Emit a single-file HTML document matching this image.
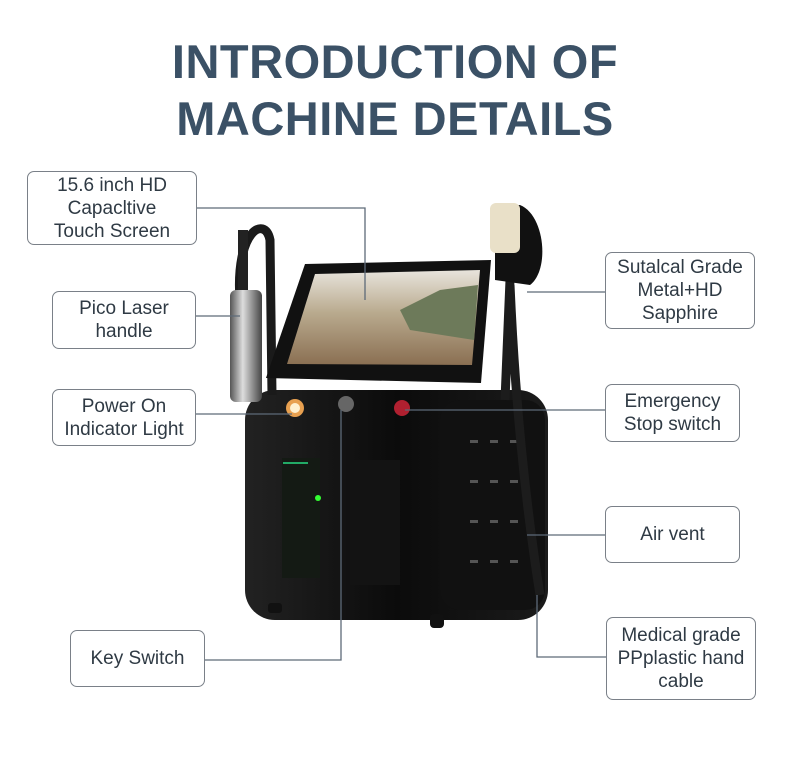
<!DOCTYPE html>
<html><head><meta charset="utf-8"><style>
body{margin:0;background:#fff;}
.wrap{position:relative;width:790px;height:768px;overflow:hidden;font-family:"Liberation Sans",sans-serif;}
.t{position:absolute;left:0;width:790px;text-align:center;font-weight:bold;color:#3b5166;font-size:47px;letter-spacing:0.5px;}
.b{position:absolute;border:1.5px solid #7a8088;border-radius:7px;box-sizing:border-box;display:flex;align-items:center;justify-content:center;text-align:center;color:#2f3a44;font-size:19px;line-height:23px;background:#fff;}
svg{position:absolute;left:0;top:0;}
</style></head><body><div class="wrap">
<div class="t" style="top:34px;line-height:56px">INTRODUCTION OF</div>
<div class="t" style="top:91px;line-height:56px">MACHINE DETAILS</div>
<svg width="790" height="768">
<defs>
<linearGradient id="bd" x1="0" x2="1"><stop offset="0" stop-color="#222"/><stop offset=".5" stop-color="#0b0b0b"/><stop offset="1" stop-color="#1b1b1b"/></linearGradient>
<linearGradient id="sc" x1="0" y1="0" x2="0" y2="1"><stop offset="0" stop-color="#e8e4dc"/><stop offset=".45" stop-color="#b9aa8e"/><stop offset="1" stop-color="#8a6f52"/></linearGradient>
<linearGradient id="hd" x1="0" x2="1"><stop offset="0" stop-color="#555"/><stop offset=".4" stop-color="#ddd"/><stop offset="1" stop-color="#444"/></linearGradient>
</defs>
<rect x="245" y="390" width="303" height="230" rx="30" fill="url(#bd)"/>
<rect x="440" y="400" width="105" height="210" rx="20" fill="#111"/>
<g fill="#555">
<rect x="470" y="440" width="8" height="3"/><rect x="490" y="440" width="8" height="3"/><rect x="510" y="440" width="8" height="3"/>
<rect x="470" y="480" width="8" height="3"/><rect x="490" y="480" width="8" height="3"/><rect x="510" y="480" width="8" height="3"/>
<rect x="470" y="520" width="8" height="3"/><rect x="490" y="520" width="8" height="3"/><rect x="510" y="520" width="8" height="3"/>
<rect x="470" y="560" width="8" height="3"/><rect x="490" y="560" width="8" height="3"/><rect x="510" y="560" width="8" height="3"/>
</g>
<rect x="282" y="458" width="38" height="120" fill="#141a14"/>
<rect x="350" y="460" width="50" height="125" fill="#131313"/>
<circle cx="318" cy="498" r="3" fill="#3f3"/>
<rect x="283" y="462" width="25" height="2" fill="#2a6"/>
<rect x="268" y="603" width="14" height="10" rx="3" fill="#111"/>
<rect x="430" y="614" width="14" height="14" rx="4" fill="#111"/>
<path d="M240 300 C235 230 265 215 270 240 L272 395" stroke="#1a1a1a" stroke-width="9" fill="none"/>
<rect x="230" y="290" width="32" height="112" rx="6" fill="url(#hd)"/>
<rect x="238" y="230" width="10" height="60" fill="#222"/>
<polygon points="305,264 491,260 481,383 266,378" fill="#111"/>
<polygon points="315,274 480,270 472,365 287,364" fill="url(#sc)"/>
<path d="M400 310 L440 290 L478 285 L474 340 L410 330Z" fill="#6d7a5a"/>
<path d="M510 280 L505 400 M510 285 C515 400 525 500 540 595" stroke="#1c1c1c" stroke-width="9" fill="none"/>
<path d="M495 205 L520 205 C545 215 550 270 530 285 L495 280Z" fill="#111"/>
<rect x="490" y="203" width="30" height="50" rx="6" fill="#e9e0c8"/>
<circle cx="295" cy="408" r="9" fill="#e8a050"/><circle cx="295" cy="408" r="5" fill="#fff0d0"/>
<circle cx="346" cy="404" r="8" fill="#666"/>
<circle cx="402" cy="408" r="8" fill="#b02030"/>
<g stroke="#5d6a78" stroke-width="1.3" fill="none">
<path d="M197 208 H365 V300"/>
<path d="M196 316 H240"/>
<path d="M196 414 H292"/>
<path d="M205 660 H341 V410"/>
<path d="M605 292 H527"/>
<path d="M605 410 H405"/>
<path d="M605 535 H527"/>
<path d="M606 657 H537 V595"/>
</g>
</svg>
<div class="b" style="left:27px;top:171px;width:170px;height:74px">15.6 inch HD<br>Capacltive<br>Touch Screen</div>
<div class="b" style="left:52px;top:291px;width:144px;height:58px">Pico Laser<br>handle</div>
<div class="b" style="left:52px;top:389px;width:144px;height:57px">Power On<br>Indicator Light</div>
<div class="b" style="left:70px;top:630px;width:135px;height:57px">Key Switch</div>
<div class="b" style="left:605px;top:252px;width:150px;height:77px">Sutalcal Grade<br>Metal+HD<br>Sapphire</div>
<div class="b" style="left:605px;top:384px;width:135px;height:58px">Emergency<br>Stop switch</div>
<div class="b" style="left:605px;top:506px;width:135px;height:57px">Air vent</div>
<div class="b" style="left:606px;top:617px;width:150px;height:83px">Medical grade<br>PPplastic hand<br>cable</div>
</div></body></html>
